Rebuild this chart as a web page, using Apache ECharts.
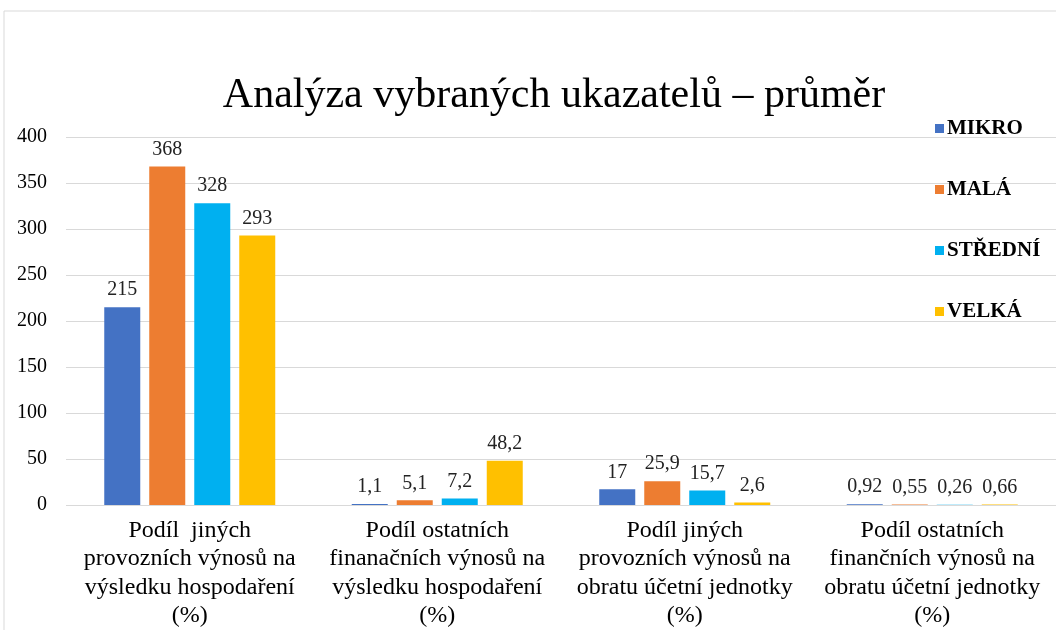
<!DOCTYPE html>
<html>
<head>
<meta charset="utf-8">
<script src="https://cdn.jsdelivr.net/npm/echarts@6/dist/echarts.min.js"></script>
<style>
  html, body { margin: 0; padding: 0; background: #fff; }
  #chart { width: 1056px; height: 630px; }
</style>
</head>
<body>
<div id="chart"></div>
<script>
const categories = [
    'Podíl  jiných\nprovozních výnosů na\nvýsledku hospodaření\n(%)',
    'Podíl ostatních\nfinanačních výnosů na\nvýsledku hospodaření\n(%)',
    'Podíl jiných\nprovozních výnosů na\nobratu účetní jednotky\n(%)',
    'Podíl ostatních\nfinančních výnosů na\nobratu účetní jednotky\n(%)'
];
const seriesNames = ['MIKRO', 'MALÁ', 'STŘEDNÍ', 'VELKÁ'];
const mikro = [215, 1.1, 17, 0.92];
const mala = [368, 5.1, 25.9, 0.55];
const stredni = [328, 7.2, 15.7, 0.26];
const velka = [293, 48.2, 2.6, 0.66];
const colors = ['#4472C4', '#ED7D31', '#00B0F0', '#FFC000'];

const serif = '"Liberation Serif", "DejaVu Serif", serif';
const chart = echarts.init(document.getElementById('chart'));

const makeSeries = (name, values, color) => ({
    name: name,
    type: 'bar',
    data: values,
    barWidth: 36,
    barGap: '25%',
    itemStyle: { color: color },
    label: {
        show: true,
        position: 'top',
        distance: 7,
        color: '#222',
        fontFamily: serif,
        fontSize: 20,
        formatter: (p) => String(p.value).replace('.', ',')
    }
});

chart.setOption({
    animation: false,
    title: {
        text: 'Analýza vybraných ukazatelů – průměr',
        left: 549,
        textAlign: 'center',
        top: 70,
        textStyle: {
            fontFamily: serif,
            fontWeight: 'normal',
            fontSize: 42,
            color: '#000'
        }
    },
    legend: {
        orient: 'vertical',
        left: 930,
        top: 113,
        itemGap: 40,
        itemWidth: 9,
        itemHeight: 9,
        icon: 'rect',
        data: seriesNames,
        textStyle: {
            fontFamily: serif,
            fontWeight: 'bold',
            fontSize: 21,
            color: '#000',
            padding: [0, 0, 0, -2]
        }
    },
    graphic: [{
        type: 'rect',
        shape: { x: 4, y: 11, width: 1060, height: 630 },
        style: { fill: 'none', stroke: '#d9d9d9', lineWidth: 1 },
        silent: true,
        z: -1
    }],
    grid: {
        left: 66,
        right: -2,
        top: 137,
        bottom: 125,
        containLabel: false
    },
    xAxis: {
        type: 'category',
        data: categories,
        axisLine: { show: false },
        axisTick: { show: false },
        axisLabel: {
            interval: 0,
            margin: 11,
            fontFamily: serif,
            fontSize: 24,
            lineHeight: 28.5,
            color: '#000'
        }
    },
    yAxis: {
        type: 'value',
        min: 0,
        max: 400,
        interval: 50,
        axisLine: { show: false },
        axisTick: { show: false },
        axisLabel: {
            margin: 19,
            fontFamily: serif,
            fontSize: 20,
            color: '#000'
        },
        splitLine: { lineStyle: { color: '#d9d9d9', width: 1 } }
    },
    series: [
        makeSeries(seriesNames[0], mikro, colors[0]),
        makeSeries(seriesNames[1], mala, colors[1]),
        makeSeries(seriesNames[2], stredni, colors[2]),
        makeSeries(seriesNames[3], velka, colors[3])
    ]
});
</script>
</body>
</html>
